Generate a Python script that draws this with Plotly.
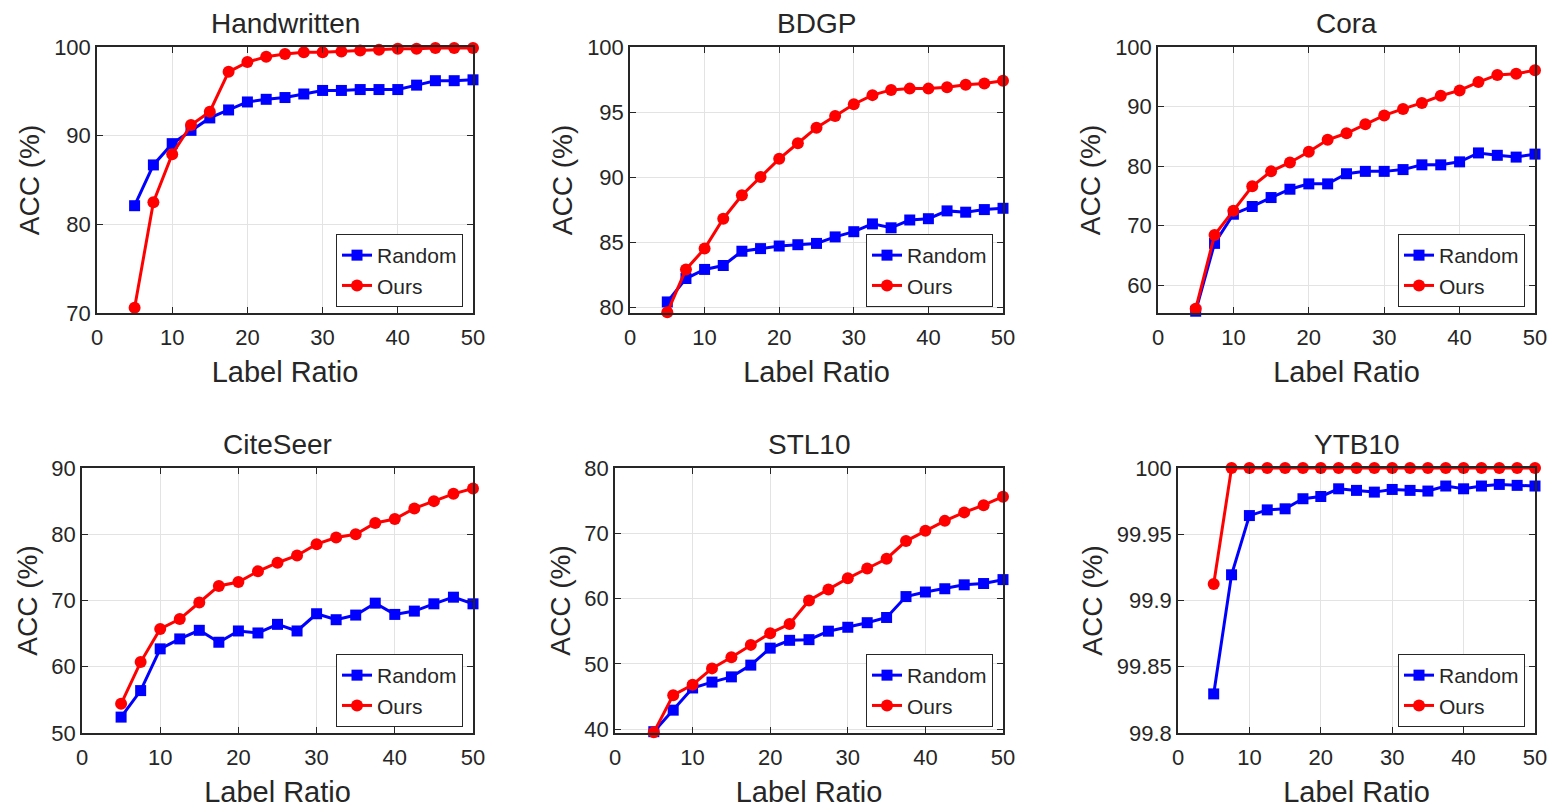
import plotly.graph_objects as go

# ---------------- data ----------------
label_ratio = [5, 7.5, 10, 12.5, 15, 17.5, 20, 22.5, 25, 27.5, 30,
               32.5, 35, 37.5, 40, 42.5, 45, 47.5, 50]

datasets = ["Handwritten", "BDGP", "Cora", "CiteSeer", "STL10", "YTB10"]

handwritten_random = [82.1, 86.7, 89.1, 90.6, 92.0, 92.9, 93.8, 94.1, 94.3, 94.7,
                      95.1, 95.1, 95.2, 95.2, 95.2, 95.7, 96.2, 96.2, 96.3]
handwritten_ours = [70.6, 82.5, 87.9, 91.2, 92.7, 97.2, 98.3, 98.9, 99.2, 99.4,
                    99.4, 99.5, 99.6, 99.7, 99.8, 99.8, 99.9, 99.9, 99.9]

bdgp_random = [80.4, 82.2, 82.9, 83.2, 84.3, 84.5, 84.7, 84.8, 84.9, 85.4,
               85.8, 86.4, 86.1, 86.7, 86.8, 87.4, 87.3, 87.5, 87.6]
bdgp_ours = [79.6, 82.9, 84.5, 86.8, 88.6, 90.0, 91.4, 92.6, 93.8, 94.7,
             95.6, 96.3, 96.7, 96.8, 96.8, 96.9, 97.1, 97.2, 97.4]

cora_random = [55.6, 67.0, 71.9, 73.2, 74.7, 76.1, 77.0, 77.0, 78.7, 79.1,
               79.1, 79.4, 80.2, 80.2, 80.7, 82.2, 81.8, 81.5, 82.0]
cora_ours = [56.0, 68.4, 72.5, 76.6, 79.1, 80.6, 82.4, 84.4, 85.5, 87.0,
             88.5, 89.6, 90.6, 91.8, 92.7, 94.1, 95.3, 95.5, 96.1]

citeseer_random = [52.4, 56.4, 62.7, 64.2, 65.5, 63.7, 65.4, 65.1, 66.4, 65.4,
                   68.0, 67.1, 67.8, 69.6, 67.9, 68.4, 69.5, 70.5, 69.5]
citeseer_ours = [54.4, 60.7, 65.7, 67.2, 69.7, 72.2, 72.8, 74.4, 75.7, 76.8,
                 78.5, 79.5, 80.0, 81.7, 82.3, 83.9, 85.0, 86.1, 86.9]

stl10_random = [39.6, 42.9, 46.3, 47.2, 48.0, 49.8, 52.4, 53.6, 53.7, 55.0,
                55.6, 56.3, 57.1, 60.3, 61.0, 61.5, 62.1, 62.3, 62.9]
stl10_ours = [39.5, 45.2, 46.8, 49.3, 51.0, 52.9, 54.7, 56.1, 59.7, 61.4,
              63.1, 64.6, 66.1, 68.8, 70.4, 71.9, 73.2, 74.3, 75.6]

ytb10_random = [99.8295, 99.9194, 99.9641, 99.9684, 99.9692, 99.9768, 99.9785,
                99.9843, 99.9831, 99.9818, 99.9838, 99.9831, 99.9826, 99.9864,
                99.9843, 99.9864, 99.9876, 99.9869, 99.9864]
ytb10_ours = [99.9124, 100.0, 100.0, 100.0, 100.0, 100.0, 100.0, 100.0, 100.0,
              100.0, 100.0, 100.0, 100.0, 100.0, 100.0, 100.0, 100.0, 100.0, 100.0]

random_series = [handwritten_random, bdgp_random, cora_random,
                 citeseer_random, stl10_random, ytb10_random]
ours_series = [handwritten_ours, bdgp_ours, cora_ours,
               citeseer_ours, stl10_ours, ytb10_ours]

y_ranges = [[70, 100], [79.55, 100], [55.3, 100], [50, 90], [39.4, 80], [99.8, 100]]
y_ticks = [[70, 80, 90, 100], [80, 85, 90, 95, 100], [60, 70, 80, 90, 100],
           [50, 60, 70, 80, 90], [40, 50, 60, 70, 80], [99.8, 99.85, 99.9, 99.95, 100]]
y_ticktext = [None, None, None, None, None, ["99.8", "99.85", "99.9", "99.95", "100"]]
x_ticks = [0, 10, 20, 30, 40, 50]

# ---------------- layout (pixel boxes) ----------------
W, H = 1550, 808
OFF = 0  # body margin removed by post_script
# left, right, top, bottom in page pixels
boxes = [
    (97, 473, 47, 313),
    (630, 1003, 47, 313),
    (1158, 1535, 47, 313),
    (82, 473, 468, 733),
    (615, 1003, 468, 733),
    (1178, 1535, 468, 733),
]


def px(x):
    return (x - OFF) / W


def py(y):
    return 1 - (y - OFF) / H


FONT = "Liberation Sans, Arial, sans-serif"
TXT = "#262626"
AX = "#262626"
GRID = "#e3e3e3"

fig = go.Figure()
layout = dict(
    template="none",
    width=W, height=H,
    margin=dict(l=0, r=0, t=0, b=0, pad=0),
    paper_bgcolor="white", plot_bgcolor="white",
    font=dict(family=FONT, color=TXT, size=22),
    hovermode=False,
    annotations=[],
)

for i, name in enumerate(datasets):
    l, r, t, b = boxes[i]
    n = i + 1
    xa = "x" if n == 1 else f"x{n}"
    ya = "y" if n == 1 else f"y{n}"
    lg = "legend" if n == 1 else f"legend{n}"

    fig.add_trace(go.Scatter(
        x=label_ratio, y=random_series[i], name="Random", mode="lines+markers",
        line=dict(color="#0000ff", width=3),
        marker=dict(symbol="square", size=11, color="#0000ff"),
        xaxis=xa, yaxis=ya, legend=lg, cliponaxis=False))
    fig.add_trace(go.Scatter(
        x=label_ratio, y=ours_series[i], name="Ours", mode="lines+markers",
        line=dict(color="#ff0000", width=3),
        marker=dict(symbol="circle", size=12, color="#ff0000"),
        xaxis=xa, yaxis=ya, legend=lg, cliponaxis=False))

    xkey = "xaxis" if n == 1 else f"xaxis{n}"
    ykey = "yaxis" if n == 1 else f"yaxis{n}"
    common = dict(showgrid=True, gridcolor=GRID, gridwidth=1, automargin=False,
                  showline=True, linecolor=AX, linewidth=1.5, mirror="ticks",
                  ticks="inside", ticklen=6, tickcolor=AX, tickwidth=1,
                  zeroline=False, tickfont=dict(size=22, color=TXT, family=FONT))
    layout[xkey] = dict(common, domain=[px(l), px(r)], anchor=ya,
                        range=[0, 50], tickvals=x_ticks, ticklabelstandoff=4,
                        title=dict(text="Label Ratio", font=dict(size=29, color=TXT), standoff=13))
    ydict = dict(common, domain=[py(b), py(t)], anchor=xa,
                 range=y_ranges[i], tickvals=y_ticks[i],
                 title=dict(text="ACC (%)", font=dict(size=28, color=TXT), standoff=6))
    if y_ticktext[i] is not None:
        ydict["ticktext"] = y_ticktext[i]
    layout[ykey] = ydict

    layout[lg] = dict(x=px(r - 10), y=py(b - 6), xanchor="right", yanchor="bottom",
                      bgcolor="white", bordercolor=AX, borderwidth=1,
                      font=dict(size=21, color=TXT, family=FONT),
                      tracegroupgap=0, itemwidth=30)

    layout["annotations"].append(dict(
        text=name, x=px((l + r) / 2), y=py(t - 24), xref="paper", yref="paper",
        showarrow=False, font=dict(size=28, color=TXT, family=FONT),
        xanchor="center", yanchor="middle"))

fig.update_layout(**layout)
fig.write_html(
    "out.html",
    config={"displayModeBar": False, "staticPlot": False},
    post_script="document.body.style.margin='0';"
                "document.body.style.overflow='hidden';"
                "document.documentElement.style.overflow='hidden';",
)
